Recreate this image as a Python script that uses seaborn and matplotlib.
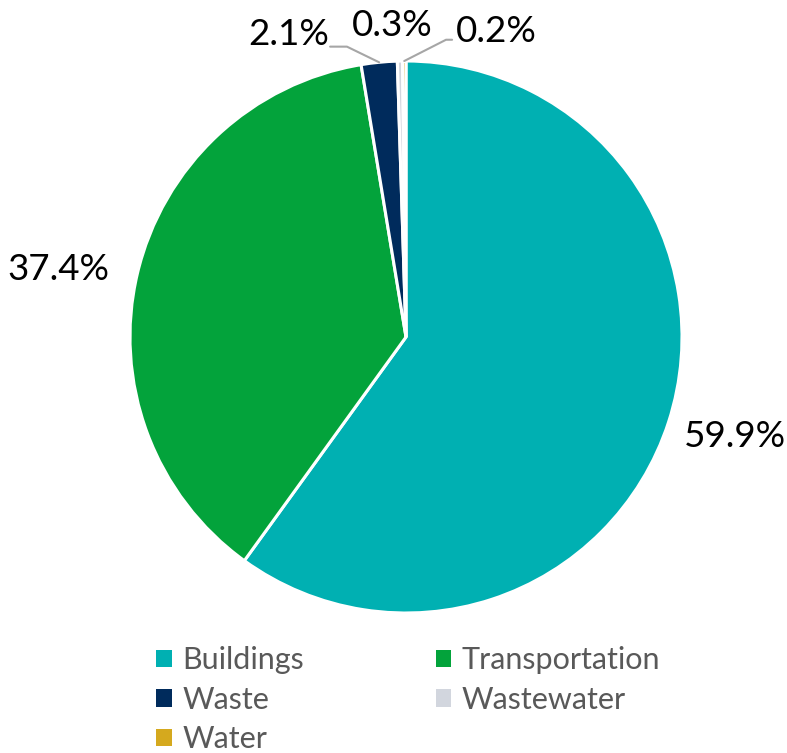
import matplotlib.pyplot as plt
import seaborn as sns
import numpy as np
from matplotlib.patches import Patch

sns.set_style('white')
plt.rcParams['font.family'] = ['Lato', 'DejaVu Sans']

sectors = ['Buildings', 'Transportation', 'Waste', 'Wastewater', 'Water']
shares = [59.9, 37.4, 2.1, 0.3, 0.2]
colors = ['#00B0B2', '#03A33B', '#002B5C', '#D2D6DE', '#D5A91E']
pct_labels = ['59.9%', '37.4%', '2.1%', '0.3%', '0.2%']

fig = plt.figure(figsize=(7.87, 7.53), dpi=100)
W, H = 787, 753
cx, cy, r = 406, 337, 276
ax = fig.add_axes([(cx - r) / W, (H - cy - r) / H, 2 * r / W, 2 * r / H])

wedges, _ = ax.pie(shares, colors=colors, startangle=90, counterclock=False,
                   wedgeprops=dict(edgecolor='white', linewidth=2.2))
ax.set_xlim(-1, 1)
ax.set_ylim(-1, 1)
ax.axis('off')

# label positions (data units, relative to pie radius)
lab_pos = [(1.005, -0.362, 'left'), (-1.258, 0.243, 'center'),
           (-0.424, 1.096, 'center'), (-0.051, 1.128, 'center'),
           (0.326, 1.108, 'center')]
for (x, y, ha), t in zip(lab_pos, pct_labels):
    ax.text(x, y, t, ha=ha, va='center', fontsize=26.5, color='black', clip_on=False)

# leader lines for the small slices
def edge(w):
    a = np.deg2rad((w.theta1 + w.theta2) / 2)
    return np.cos(a), np.sin(a)

lc = '#A6A6A6'
leaders = {2: [(-0.275, 1.052), (-0.214, 1.052)], 4: [(0.167, 1.077), (0.145, 1.077)]}
for i, pts in leaders.items():
    ex, ey = edge(wedges[i])
    xs = [p[0] for p in pts] + [ex]
    ys = [p[1] for p in pts] + [ey]
    ax.plot(xs, ys, color=lc, lw=1.5, clip_on=False)

# legend is filled row by row in the reference
order = [0, 2, 4, 1, 3]
handles = [Patch(facecolor=colors[i], edgecolor='none') for i in order]
labels = [sectors[i] for i in order]
fig.legend(handles, labels, ncol=2, loc='upper left', frameon=False,
           bbox_to_anchor=(144 / W, 1 - 634 / H), fontsize=22,
           labelcolor='#595959', handlelength=0.5, handleheight=0.5,
           handletextpad=0.36, columnspacing=4.3, labelspacing=0.38,
           borderaxespad=0)

fig.savefig('out.png', dpi=100)
